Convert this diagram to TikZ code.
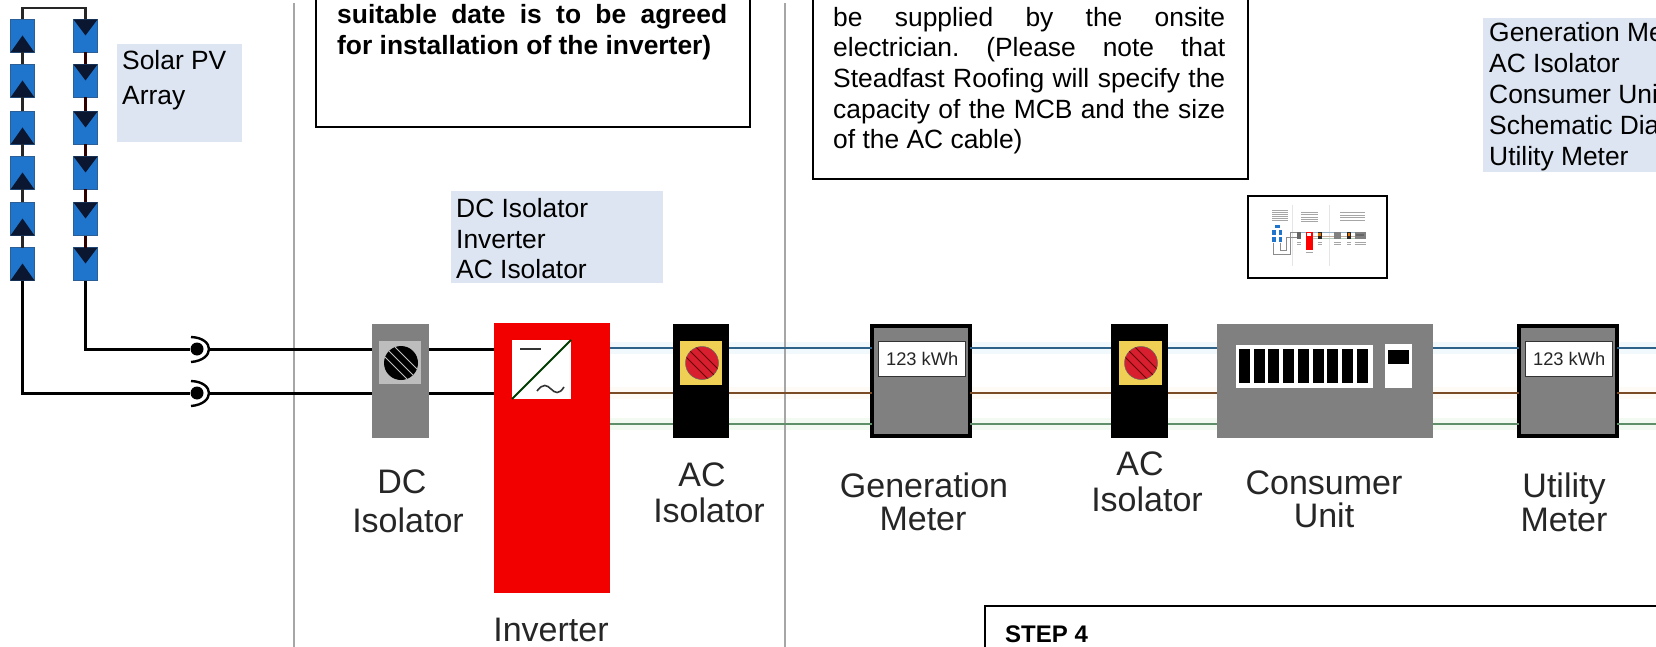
\documentclass[tikz,border=0pt]{standalone}
\usepackage{fontspec}
\setmainfont{Liberation Sans}
\definecolor{lbl}{HTML}{DCE5F1}
\definecolor{devgray}{HTML}{808080}
\definecolor{ink}{HTML}{262626}
\definecolor{wblue}{HTML}{2F6288}
\definecolor{wbrown}{HTML}{7A4B25}
\definecolor{wgreen}{HTML}{5E8F68}
\definecolor{halob}{HTML}{F1F9FC}
\definecolor{halon}{HTML}{FEFAF5}
\definecolor{halog}{HTML}{F2FAF2}
\definecolor{panel}{HTML}{1F75CC}
\definecolor{panelb}{HTML}{2B5F96}
\definecolor{tri}{HTML}{0B1730}
\definecolor{sep}{HTML}{A6A6A6}
\definecolor{yel}{HTML}{EFD055}
\definecolor{knob}{HTML}{D81F30}
\tikzset{
  x=1pt,y=-1pt,
  dev/.style={draw=none,rectangle,inner sep=0pt,outer sep=0pt},
  lab/.style={inner sep=0pt,anchor=base,text=ink,font=\fontsize{34}{38}\selectfont},
  para/.style={inner sep=0pt,anchor=north west,align=justify,font=\fontsize{26.4}{30.6}\selectfont\frenchspacing},
  note/.style={rectangle,draw=black,line width=1.5pt,fill=white,inner sep=0pt,anchor=south west},
  tag/.style={rectangle,fill=lbl,inner sep=0pt,anchor=north west},
  tagtxt/.style={inner sep=0pt,anchor=base west,font=\fontsize{26.4}{30}\selectfont},
  dcw/.style={draw=black,line width=3pt},
  acb/.style={draw=wblue,line width=2.4pt},
  acn/.style={draw=wbrown,line width=2.4pt},
  acg/.style={draw=wgreen,line width=2.4pt},
  pnl/.style={rectangle,fill=panel,draw=panelb,line width=1pt,inner sep=0pt,outer sep=0pt,minimum width=24,minimum height=33},
  meter/.style={dev,fill=devgray,draw=black,line width=4pt,minimum width=98,minimum height=110,anchor=north west},
  disp/.style={rectangle,fill=white,draw=black!80,line width=1.4pt,inner sep=0pt,minimum width=87,minimum height=35,anchor=north west,text=ink,font=\fontsize{18.3}{20}\selectfont},
  thumbw/.style={line width=.4pt},
  textline/.style={draw=black!35,line width=.5pt},
}
\begin{document}
\begin{tikzpicture}
\useasboundingbox (0,0) rectangle (1656,647);
\clip (0,0) rectangle (1656,647);
\fill[white] (0,0) rectangle (1656,647);

% separators
\coordinate (s1t) at (294,3); \coordinate (s1b) at (294,647);
\coordinate (s2t) at (785,3); \coordinate (s2b) at (785,647);

% wire levels
\coordinate (yb) at (0,348); \coordinate (yn) at (0,393); \coordinate (yg) at (0,424);

% wire halos
\fill[halob] (610,342) rectangle (1656,354);
\fill[halon] (610,387) rectangle (1656,399);
\fill[halog] (610,418) rectangle (1656,430);

\draw[sep,line width=1.6pt] (s1t) -- (s1b);
\draw[sep,line width=1.6pt] (s2t) -- (s2b);

% solar panels
\foreach \i/\y in {1/36,2/81,3/128,4/173,5/219,6/264}{
  \node[pnl] (a\i) at (22.5,\y) {};
  \node[pnl] (b\i) at (85.5,\y) {};
  \fill[tri] (a\i.south west) -- (a\i.south east) -- ([yshift=17pt]a\i.south) -- cycle;
  \fill[tri] (b\i.north west) -- (b\i.north east) -- ([yshift=-16pt]b\i.north) -- cycle;
}
\foreach \i/\j in {1/2,2/3,3/4,4/5,5/6}{
  \draw[black!85,line width=2.4pt] (a\i.south) -- (a\j.north);
  \draw[black!70!red!60!black,line width=2.4pt] (b\i.south) -- (b\j.north);
}
\coordinate (topy) at (0,8);
\draw[black!85,line width=2.4pt] (a1.north) -- (a1.north |- topy) -- (b1.north |- topy) -- (b1.north);

% devices
\node[dev,fill=devgray,minimum width=57,minimum height=114,anchor=north west] (dci) at (372,324) {};
\node[dev,fill=black!26,minimum width=42,minimum height=43,anchor=north west] (dcis) at (379,341) {};
\node[dev,fill=red!95!black,minimum width=116,minimum height=270,anchor=north west] (inv) at (494,323) {};
\node[dev,fill=white,minimum width=59,minimum height=59,anchor=north west] (invs) at (512,340) {};
\node[dev,fill=black,minimum width=56,minimum height=114,anchor=north west] (ac1) at (673,324) {};
\node[dev,fill=yel,minimum width=42,minimum height=44,anchor=north west] (ac1s) at (680,341) {};
\node[meter] (gm) at (872,326) {};
\node[dev,fill=black,minimum width=57,minimum height=114,anchor=north west] (ac2) at (1111,324) {};
\node[dev,fill=yel,minimum width=43,minimum height=44,anchor=north west] (ac2s) at (1119,341) {};
\node[dev,fill=devgray,minimum width=216,minimum height=114,anchor=north west] (cu) at (1217,324) {};
\node[meter] (um) at (1519,326) {};

% connectors
\node[circle,fill=black,inner sep=0pt,minimum size=13] (ca) at (197,349) {};
\node[circle,fill=black,inner sep=0pt,minimum size=13] (cb) at (197,393) {};
\draw[black,line width=2.4pt] (191,337) .. controls (215,338) and (215,360) .. (191,362);
\draw[black,line width=2.4pt] (191,381) .. controls (215,382) and (215,404) .. (191,406);
\coordinate (ga) at (209,349); \coordinate (gb) at (209,393);
\draw[dcw] (b6.south) |- (ca.west);
\draw[dcw] (a6.south) |- (cb.west);
\draw[dcw] (ga) -- (dci.west |- ga);
\draw[dcw] (gb) -- (dci.west |- gb);
\draw[dcw] (dci.east |- ga) -- (inv.west |- ga);
\draw[dcw] (dci.east |- gb) -- (inv.west |- gb);

% AC wires
\coordinate (edge) at (1656,0);
\foreach \l/\s in {yb/acb,yn/acn,yg/acg}{
  \draw[\s] (inv.east |- \l) -- (ac1.west |- \l);
  \draw[\s] (ac1.east |- \l) -- (gm.west |- \l);
  \draw[\s] (gm.east |- \l) -- (ac2.west |- \l);
  \draw[\s] (ac2.east |- \l) -- (cu.west |- \l);
  \draw[\s] (cu.east |- \l) -- (um.west |- \l);
  \draw[\s] (um.east |- \l) -- (edge |- \l);
}

% DC isolator knob
\node[circle,fill=black,inner sep=0pt,minimum size=34] (k0) at (401,363) {};
\begin{scope}
\clip (401,363) circle[radius=17];
\foreach \d in {-5,0,5}{\draw[white!75!black,line width=.9pt] (381+\d,343-\d) -- (421+\d,383-\d);}
\end{scope}
% AC knobs
\foreach \n/\cx in {k1/702,k2/1141}{
  \node[circle,fill=knob,draw=black!60,line width=.5pt,inner sep=0pt,minimum size=33] (\n) at (\cx,363) {};
  \begin{scope}
  \clip (\cx,363) circle[radius=16.5];
  \foreach \d in {-5,0,5}{\draw[black!60!red,line width=1pt] (\cx-20+\d,343-\d) -- (\cx+20+\d,383-\d);}
  \end{scope}
}
% inverter symbol
\draw[black!60!green!60!black,line width=1.8pt] (invs.south west) -- (invs.north east);
\draw[black!80,line width=1.8pt] (520,349) -- (541,349);
\draw[black!80,line width=1.6pt] (537,391) .. controls (543,383) and (547,385) .. (551,389) .. controls (555,393) and (559,395) .. (564,387);

% meters
\node[disp] (gmd) at (878,341) {123 kWh};
\node[disp] (umd) at (1525,341) {123 kWh};

% consumer unit
\node[dev,fill=white,minimum width=137,minimum height=43,anchor=north west] (cus) at (1236,345) {};
\foreach \k in {0,...,8}{
  \fill[black] (1239+14.7*\k,349) rectangle (1250+14.7*\k,383);
}
\node[dev,fill=white,minimum width=27,minimum height=44,anchor=north west] (cum) at (1385,344) {};
\node[dev,fill=black,minimum width=21,minimum height=14,anchor=north west] (cumb) at (1388,350) {};

% device labels
\node[lab] (t1) at (402,493) {DC};
\node[lab] (t2) at (408,532) {Isolator};
\node[lab] (t3) at (702,486) {AC};
\node[lab] (t4) at (709,522) {Isolator};
\node[lab] (t5) at (551,641) {Inverter};
\node[lab] (t6) at (924,497) {Generation};
\node[lab] (t7) at (923,530) {Meter};
\node[lab] (t8) at (1140,475) {AC};
\node[lab] (t9) at (1147,511) {Isolator};
\node[lab] (t10) at (1324,494) {Consumer};
\node[lab] (t11) at (1324,527) {Unit};
\node[lab] (t12) at (1564,497) {Utility};
\node[lab] (t13) at (1564,531) {Meter};

% blue tags
\node[tag,minimum width=125,minimum height=98] (tg1) at (117,44) {};
\node[tagtxt] (tg1a) at (122,70) {Solar PV};
\node[tagtxt] (tg1b) at (122,105) {Array};
\node[tag,minimum width=212,minimum height=92] (tg2) at (451,191) {};
\node[tagtxt] (tg2a) at (456,218) {DC Isolator};
\node[tagtxt] (tg2b) at (456,248) {Inverter};
\node[tagtxt] (tg2c) at (456,278) {AC Isolator};
\node[tag,minimum width=190,minimum height=154] (tg3) at (1483,18) {};
\node[tagtxt] (tg3a) at (1489,42) {Generation Me};
\node[tagtxt] (tg3b) at (1489,73) {AC Isolator};
\node[tagtxt] (tg3c) at (1489,104) {Consumer Uni};
\node[tagtxt] (tg3d) at (1489,135) {Schematic Dia};
\node[tagtxt] (tg3e) at (1489,166) {Utility Meter};

% note boxes
\node[note,minimum width=434,minimum height=150] (n1) at (315,128) {};
\node[para,text width=390,font=\fontsize{26.4}{30.8}\selectfont\bfseries\frenchspacing] (n1t) at (337,4)
  {suitable date is to be agreed\linebreak for installation of the inverter)};
\node[note,minimum width=435,minimum height=200] (n2) at (812,180) {};
\node[para,text width=392] (n2t) at (833,7)
  {be supplied by the onsite\linebreak electrician. (Please note that\linebreak Steadfast Roofing will specify the\linebreak capacity of the MCB and the size\linebreak of the AC cable)};
\node[note,minimum width=700,minimum height=60,anchor=north west] (n3) at (984,605) {};
\node[inner sep=0pt,anchor=base west,font=\fontsize{24}{28}\selectfont\bfseries] (n3t) at (1005,642) {STEP 4};

% thumbnail
\node[rectangle,draw=black,line width=2pt,fill=white,inner sep=0pt,minimum width=139,minimum height=81,anchor=north west] (th) at (1246.5,195.5) {};
\begin{scope}[shift={(1220,180)},x=0.3333pt,y=-0.3333pt]
  \draw[black!10,line width=.8pt] (216,75) -- (216,258);
  \draw[black!10,line width=.8pt] (327,75) -- (327,258);
  \foreach \y in {90,96,102,108,114,120}{\draw[textline] (156,\y) -- (205,\y);}
  \foreach \y in {96,102,112,118,124}{\draw[textline] (243,\y) -- (295,\y);}
  \foreach \y in {96,107,113,120}{\draw[textline] (360,\y) -- (436,\y);}
  \draw[black!45,thumbw] (161,188) -- (161,222) -- (212,222) -- (212,158) -- (232,158);
  \draw[black!45,thumbw] (181,188) -- (181,210) -- (200,210) -- (200,172) -- (232,172);
  \draw[wblue!50,thumbw] (244,158) -- (437,158);
  \draw[wbrown!45,thumbw] (280,170) -- (437,170);
  \draw[wgreen!45,thumbw] (280,175) -- (437,175);
  \fill[panel] (164,135) rectangle (180,145);
  \fill[panel] (156,150) rectangle (167,166);
  \fill[panel] (156,170) rectangle (167,187);
  \fill[panel] (176,150) rectangle (187,166);
  \fill[panel] (176,170) rectangle (187,187);
  \fill[black!60] (232,155) rectangle (244,178);
  \fill[red] (257,155) rectangle (280,210);
  \fill[white] (262,158) rectangle (272,168);
  \fill[black!85] (293,155) rectangle (305,178);
  \fill[orange!90!black] (295,160) rectangle (303,168);
  \fill[devgray] (342,155) rectangle (364,178);
  \fill[black!85] (381,155) rectangle (393,178);
  \fill[orange!90!black] (383,160) rectangle (391,168);
  \fill[devgray] (404,155) rectangle (437,178);
  \fill[black!60] (408,162) rectangle (433,167);
  \foreach \x/\w in {232/12,293/12,342/22,381/12,404/33}{\draw[textline] (\x,186) -- (\x+\w,186); \draw[textline] (\x,192) -- (\x+\w,192);}
  \draw[textline] (257,216) -- (280,216);
\end{scope}
\end{tikzpicture}
\end{document}
